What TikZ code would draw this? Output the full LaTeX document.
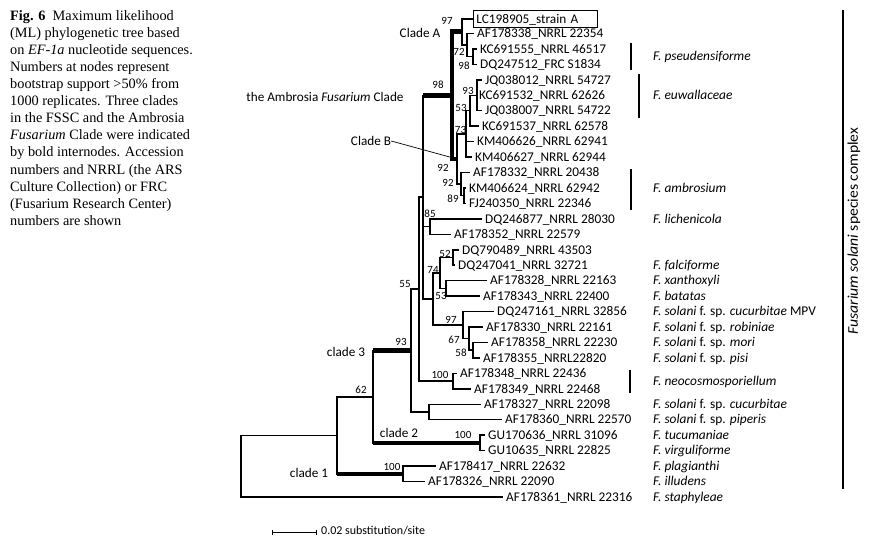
\documentclass[tikz,border=0pt]{standalone}
\usepackage{fontspec}
\setmainfont{Carlito}
\newfontfamily\spfont{Carlito}[FakeStretch=1.06]
\newfontfamily\capfont{Liberation Serif}
\usetikzlibrary{arrows.meta}

\tikzset{
  branch/.style={line width=1.5pt, line join=miter},
  bold/.style={line width=4.5pt},
  leaf/.style={anchor=west, inner sep=0pt, inner xsep=3pt, font=\fontsize{13.3}{15}\selectfont, text height=8.5pt, text depth=0pt},
  bs/.style={inner sep=0pt, font=\fontsize{11}{12}\selectfont},
  sp/.style={anchor=west, inner sep=0pt, font=\fontsize{13.4}{15}\selectfont\itshape, text height=8.5pt, text depth=0pt},
  clab/.style={inner sep=0pt, font=\fontsize{13.2}{15}\selectfont},
  bar/.style={line width=1.5pt},
  captext/.style={anchor=north west, align=left, inner sep=0pt, font=\capfont\fontsize{14.3}{17.1}\selectfont}
}

\begin{document}
\begin{tikzpicture}[x=1pt, y=-1pt]
\useasboundingbox (0,0) rectangle (877,548);

% caption
\node[captext] (legend) at (10,10) {\textbf{Fig. 6}\enspace Maximum likelihood\\
(ML) phylogenetic tree based\\
on \textit{EF-1a} nucleotide sequences.\\
Numbers at nodes represent\\
bootstrap support >50\% from\\
1000 replicates. Three clades\\
in the FSSC and the Ambrosia\\
\textit{Fusarium} Clade were indicated\\
by bold internodes. Accession\\
numbers and NRRL (the ARS\\
Culture Collection) or FRC\\
(Fusarium Research Center)\\
numbers are shown};

% leaves
\node[leaf, draw, line width=0.8pt, minimum height=17pt, text width=118pt] (t1) at (473,19) {LC198905\_strain A};
\foreach \x/\y/\t [count=\i from 2] in {
  474/33.5/AF178338\_NRRL 22354, 477/48.9/KC691555\_NRRL 46517, 477/64.4/DQ247512\_FRC S1834,
  482/79.8/JQ038012\_NRRL 54727, 476/95.3/KC691532\_NRRL 62626, 482/110.7/JQ038007\_NRRL 54722,
  479/126.2/KC691537\_NRRL 62578, 474/141.6/KM406626\_NRRL 62941, 472/157.1/KM406627\_NRRL 62944,
  470/172.5/AF178332\_NRRL 20438, 466/188/KM406624\_NRRL 62942, 466/203.4/FJ240350\_NRRL 22346,
  482/218.9/DQ246877\_NRRL 28030, 451/234.3/AF178352\_NRRL 22579, 459/249.8/DQ790489\_NRRL 43503,
  455/265.2/DQ247041\_NRRL 32721, 487/280.7/AF178328\_NRRL 22163, 480/296.1/AF178343\_NRRL 22400,
  494/311.6/DQ247161\_NRRL 32856, 483/327/AF178330\_NRRL 22161, 488/342.5/AF178358\_NRRL 22230,
  480/357.9/AF178355\_NRRL22820, 457/373.4/AF178348\_NRRL 22436, 471/388.8/AF178349\_NRRL 22468,
  481/404.3/AF178327\_NRRL 22098, 502/419.7/AF178360\_NRRL 22570, 485/435.2/GU170636\_NRRL 31096,
  485/450.6/GU10635\_NRRL 22825, 436/466.1/AF178417\_NRRL 22632, 425/481.5/AF178326\_NRRL 22090,
  503/497/AF178361\_NRRL 22316}
  \node[leaf] (t\i) at (\x,\y) {\t};

% internal nodes
\coordinate (n98) at (473,56.6);
\coordinate (n72) at (467,45);
\coordinate (cA) at (462,31.5);
\coordinate (n93) at (477,95.3);
\coordinate (n53) at (470,110.7);
\coordinate (n73) at (466,133.9);
\coordinate (n89) at (464,195.7);
\coordinate (n92) at (461,184.1);
\coordinate (cB) at (457,159);
\coordinate (amb) at (452,95.3);
\coordinate (n85) at (430,226.6);
\coordinate (n52) at (453,257.5);
\coordinate (n53b) at (446,288.4);
\coordinate (n74) at (440,272.9);
\coordinate (n58) at (473,350.2);
\coordinate (n67) at (469,338.6);
\coordinate (n97) at (463,325.1);
\coordinate (nF) at (433,299);
\coordinate (nP) at (423,197.2);
\coordinate (neo) at (453,381.1);
\coordinate (n55) at (419,289.2);
\coordinate (nS) at (429,412);
\coordinate (c3) at (411,350.6);
\coordinate (c2) at (480,442.9);
\coordinate (n62) at (373,396.8);
\coordinate (c1) at (403,473.8);
\coordinate (nR) at (337,435.3);
\coordinate (root) at (241,466.1);

% branches
\foreach \p/\c in {root/nR, root/t32, nR/n62, nR/c1, c1/t30, c1/t31, n62/c3, n62/c2,
  c2/t28, c2/t29, c3/n55, c3/nS, nS/t26, nS/t27, n55/nP, n55/neo, neo/t24, neo/t25,
  nP/amb, nP/n85, nP/nF, nF/n74, nF/n97, n97/t20, n97/n67, n67/t21, n67/n58, n58/t22, n58/t23,
  n74/n52, n74/n53b, n52/t16, n52/t17, n53b/t18, n53b/t19, n85/t14, n85/t15,
  cA/t1, cA/n72, n72/t2, n72/n98, n98/t3, n98/t4, cB/n73, cB/n92, n73/n53, n73/t9, n73/t10,
  n53/n93, n53/t8, n93/t5, n93/t6, n93/t7, n92/t11, n92/n89, n89/t12, n89/t13}
  \draw[branch] (\p) |- (\c);

% bold internodes
\foreach \p/\c in {nR/c1, n62/c3, n62/c2, nP/amb}
  \draw[bold] (\p |- \c) -- (\c);
\foreach \c in {cA, cB}
  \draw[bold] (amb) |- (\c);
\draw[line width=2.5pt] (n89 |- t12) -- (n89 |- t13);

% bootstrap values
\foreach \x/\y/\v [count=\i] in {447/21/97, 459/52/72, 464/66/98, 438/85/98, 468/91/93, 461/108/53,
  460.5/130/73, 443/168/92, 448/183/92, 453/199/89, 430/214/85, 445/254/52, 433/270/74,
  441/296/53, 451/320/97, 454/340/67, 461/353/58, 440/375/100, 405/284/55, 401/342/93,
  361/390/62, 463/435/100, 392/467/100}
  \node[bs] (b\i) at (\x,\y) {\v};

% clade labels
\node[clab] (lA) at (420,33) {Clade A};
\node[clab] (lAmb) at (325,97) {the Ambrosia \textit{Fusarium} Clade};
\node[clab] (lB) at (371,141) {Clade B};
\node[clab] (l3) at (346,352) {clade 3};
\node[clab] (l2) at (399,433) {clade 2};
\node[clab] (l1) at (309,473) {clade 1};
\draw[line width=0.7pt] (lB.east) -- (cB);

% species
\foreach \y/\t [count=\i] in {56.6/F. pseudensiforme, 95.3/F. euwallaceae, 188/F. ambrosium,
  218.9/F. lichenicola, 265.2/F. falciforme, 280.7/F. xanthoxyli, 296.1/F. batatas,
  311.6/{F. solani \textup{f. sp.} cucurbitae \textup{MPV}}, 327/{F. solani \textup{f. sp.} robiniae},
  342.5/{F. solani \textup{f. sp.} mori}, 357.9/{F. solani \textup{f. sp.} pisi},
  381.1/F. neocosmosporiellum, 404.3/{F. solani \textup{f. sp.} cucurbitae},
  419.7/{F. solani \textup{f. sp.} piperis}, 435.2/F. tucumaniae, 450.6/F. virguliforme,
  466.1/F. plagianthi, 481.5/F. illudens, 497/F. staphyleae}
  \node[sp] (s\i) at (653,\y) {\t};

\draw[bar] (631,43) -- (631,70);
\draw[bar] (639,74) -- (639,118);
\draw[bar] (631,169) -- (631,210);
\draw[bar] (630,370) -- (630,393);
\draw[bar] (843,10) -- (843,489);
\node[rotate=90, inner sep=0pt, font=\spfont\fontsize{14.8}{16}\selectfont] (fssc) at (854,231) {\textit{Fusarium solani} species complex};

% scale bar
\draw[line width=1pt, {Bar[width=5pt]}-{Bar[width=5pt]}] (272,532) -- (317,532);
\node[anchor=west, inner sep=0pt, font=\fontsize{12}{13}\selectfont] (scl) at (321,531) {0.02 substitution/site};
\end{tikzpicture}
\end{document}
